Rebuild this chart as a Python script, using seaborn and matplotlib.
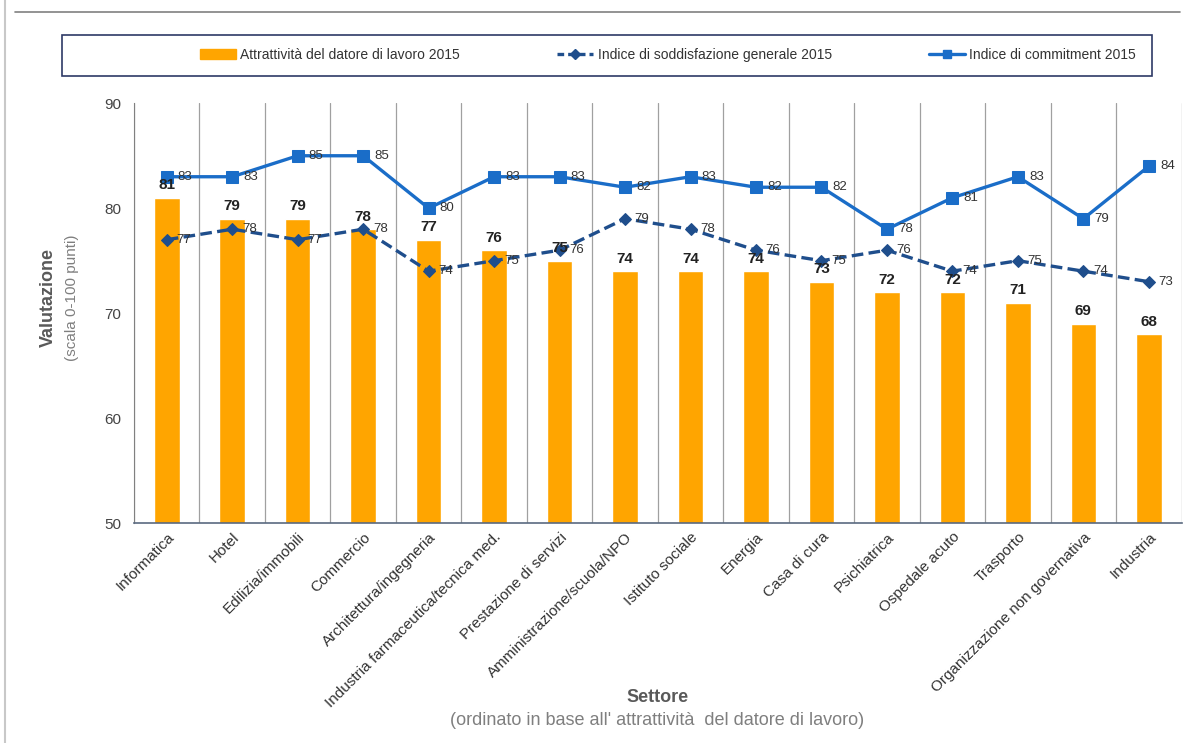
import numpy as np
import pandas as pd
import matplotlib
matplotlib.use("Agg")
import matplotlib.pyplot as plt
import seaborn as sns
from matplotlib.lines import Line2D
from matplotlib.patches import Rectangle

# data
settori = ["Informatica", "Hotel", "Edilizia/immobili", "Commercio",
           "Architettura/ingegneria", "Industria farmaceutica/tecnica med.",
           "Prestazione di servizi", "Amministrazione/scuola/NPO",
           "Istituto sociale", "Energia", "Casa di cura", "Psichiatrica",
           "Ospedale acuto", "Trasporto", "Organizzazione non governativa",
           "Industria"]
attrattivita = [81, 79, 79, 78, 77, 76, 75, 74, 74, 74, 73, 72, 72, 71, 69, 68]
soddisfazione = [77, 78, 77, 78, 74, 75, 76, 79, 78, 76, 75, 76, 74, 75, 74, 73]
commitment = [83, 83, 85, 85, 80, 83, 83, 82, 83, 82, 82, 78, 81, 83, 79, 84]

lbl_bar = "Attrattività del datore di lavoro 2015"
lbl_sod = "Indice di soddisfazione generale 2015"
lbl_com = "Indice di commitment 2015"

df = pd.DataFrame({"settore": settori, "attr": attrattivita,
                   "sodd": soddisfazione, "comm": commitment})
df["pos"] = np.arange(len(df))

sns.set_style("white")
plt.rcParams["font.family"] = ["Liberation Sans", "DejaVu Sans"]
narrow = ["Liberation Sans Narrow", "Liberation Sans", "DejaVu Sans"]

orange = "#FFA500"
blue = "#1A6DC8"
navy = "#1F4E8C"

fig = plt.figure(figsize=(12.02, 7.43), dpi=100)
ax = fig.add_axes([0.1115, 0.296, 0.8715, 0.565])

sns.barplot(data=df, x="settore", y="attr", color=orange, width=0.39,
            saturation=1, ax=ax, label=lbl_bar)
sns.lineplot(data=df, x="pos", y="sodd", color=navy, lw=2.4, marker="D",
             markersize=6, markeredgecolor=navy, dashes=(3.5, 1.6), ax=ax,
             label=lbl_sod)
sns.lineplot(data=df, x="pos", y="comm", color=blue, lw=2.4, marker="s",
             markersize=8, markeredgecolor=blue, ax=ax, label=lbl_com)

# value labels
for i, v in enumerate(attrattivita):
    ax.annotate(str(v), (i, v), xytext=(0, 4), textcoords="offset points",
                ha="center", va="bottom", fontsize=11, fontweight="bold",
                color="#222222")
for i, v in enumerate(soddisfazione):
    ax.annotate(str(v), (i, v), xytext=(7, 0), textcoords="offset points",
                ha="left", va="center", fontsize=9.5, color="#333333",
                family=narrow)
for i, v in enumerate(commitment):
    ax.annotate(str(v), (i, v), xytext=(8, 0), textcoords="offset points",
                ha="left", va="center", fontsize=9.5, color="#333333",
                family=narrow)

ax.set_ylim(50, 90)
ax.set_yticks([50, 60, 70, 80, 90])
ax.set_xlim(-0.5, len(settori) - 0.5)
ax.set_xticks(np.arange(len(settori)))
ax.set_xticklabels(settori, rotation=45, ha="right", rotation_mode="anchor",
                   fontsize=11, color="#333333")
ax.set_xticks(np.arange(-0.5, len(settori), 1), minor=True)
ax.tick_params(axis="both", which="both", length=0)
ax.tick_params(axis="y", labelsize=11, colors="#444444", pad=9)
ax.tick_params(axis="x", pad=5)
ax.grid(which="minor", axis="x", color="#A0A0A0", lw=0.9)
ax.grid(which="major", visible=False)
ax.set_xlabel("")
ax.set_ylabel("")
for s in ["top", "right"]:
    ax.spines[s].set_visible(False)
ax.spines["left"].set_color("#808080")
ax.spines["bottom"].set_color("#5A6A80")
ax.spines["bottom"].set_linewidth(1.2)
ax.get_legend().remove()

# axis titles
fig.text(0.040, 0.599, "Valutazione", rotation=90, ha="center", va="center",
         fontsize=13, fontweight="bold", color="#595959")
fig.text(0.060, 0.599, "(scala 0-100 punti)", rotation=90, ha="center",
         va="center", fontsize=11, color="#7F7F7F")
fig.text(0.547, 0.061, "Settore", ha="center", va="center", fontsize=13,
         fontweight="bold", color="#595959")
fig.text(0.547, 0.030, "(ordinato in base all' attrattività  del datore di lavoro)",
         ha="center", va="center", fontsize=13, color="#7F7F7F")

# legend inside a framed box
fig.patches.append(Rectangle((62 / 1202, 1 - 76 / 743), 1090 / 1202, 41 / 743,
                             transform=fig.transFigure, fill=False,
                             edgecolor="#2E3A66", lw=1.2))
handles = [Rectangle((0, 0), 1, 1, color=orange),
           Line2D([], [], color=navy, lw=2.4, marker="D", markersize=5,
                  dashes=(2, 1.2)),
           Line2D([], [], color=blue, lw=2.4, marker="s", markersize=6)]
leg = fig.legend(handles, [lbl_bar, lbl_sod, lbl_com], loc="center",
                 bbox_to_anchor=(668 / 1202, 1 - 55 / 743), ncol=3,
                 frameon=False, columnspacing=7, handlelength=2.6,
                 handletextpad=0.3, prop={"family": narrow, "size": 10})
for t in leg.get_texts():
    t.set_color("#333333")

# page decoration: rule under the (cut off) title and left page edge
fig.add_artist(Line2D([15 / 1202, 1180 / 1202], [1 - 12 / 743] * 2,
                      transform=fig.transFigure, color="#808080", lw=1.2))
fig.add_artist(Line2D([5 / 1202] * 2, [0, 1], transform=fig.transFigure,
                      color="#C8C8C8", lw=1.5))

fig.savefig("out.png", dpi=100)
